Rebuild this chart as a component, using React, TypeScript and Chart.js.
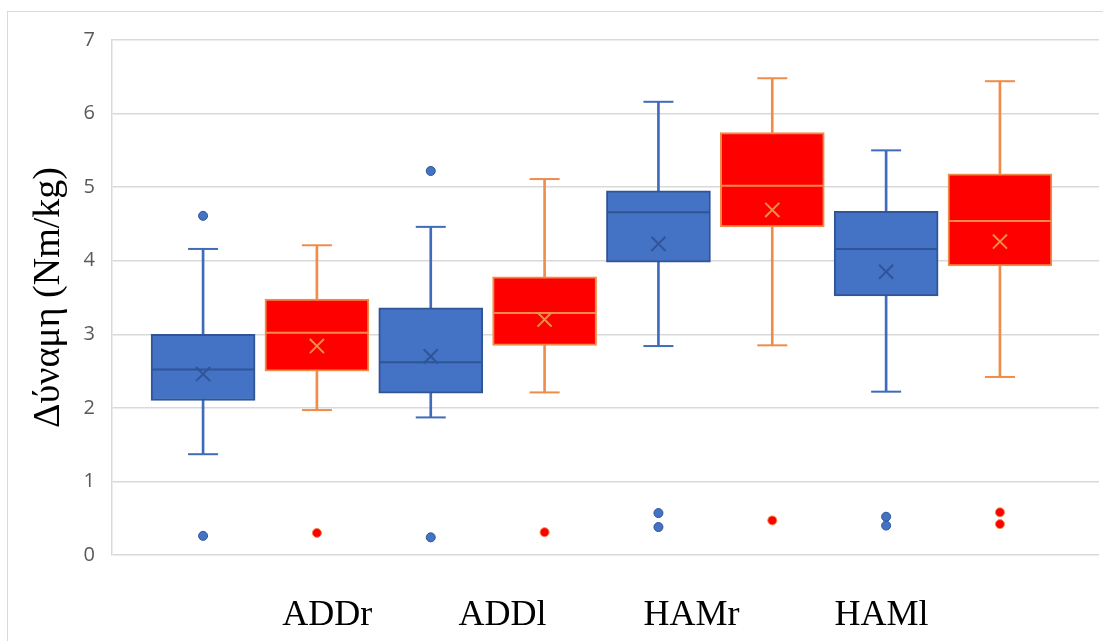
import React, { useEffect, useRef } from 'react';
import { Chart, registerables } from 'chart.js';

Chart.register(...registerables);

// ---- data ----
const categories = ['ADDr', 'ADDl', 'HAMr', 'HAMl'];
const labelPositions = [2.09, 3.63, 5.29, 6.96];
const bluePositions = [1, 3, 5, 7];
const redPositions = [2, 4, 6, 8];

const blueMin = [1.37, 1.87, 2.84, 2.22];
const blueQ1 = [2.10, 2.20, 3.98, 3.52];
const blueMedian = [2.52, 2.62, 4.66, 4.16];
const blueQ3 = [3.00, 3.36, 4.95, 4.67];
const blueMax = [4.16, 4.46, 6.16, 5.50];
const blueMean = [2.46, 2.70, 4.23, 3.85];
const blueOutliers = [[4.61, 0.26], [5.22, 0.24], [0.57, 0.38], [0.52, 0.40]];

const redMin = [1.97, 2.21, 2.85, 2.42];
const redQ1 = [2.50, 2.85, 4.46, 3.93];
const redMedian = [3.02, 3.29, 5.02, 4.54];
const redQ3 = [3.48, 3.78, 5.74, 5.18];
const redMax = [4.21, 5.11, 6.48, 6.44];
const redMean = [2.84, 3.20, 4.69, 4.26];
const redOutliers = [[0.30], [0.31], [0.47], [0.58, 0.42]];

const yTicks = [0, 1, 2, 3, 4, 5, 6, 7];

const BLUE = '#4472C4';
const BLUE_WHISKER = '#3F6BBA';
const BLUE_DARK = '#2F5597';
const RED = '#FF0000';
const ORANGE = '#F08C4A';

function boxSeries(xs: number[], mn: number[], q1: number[], med: number[], q3: number[], mx: number[], mean: number[], outl: number[][], fill: string, edge: string, whisker: string) {
  return [
    {
      type: 'bar',
      data: xs.map((x, i) => ({ x, y: [mn[i], mx[i]] })),
      backgroundColor: whisker,
      borderWidth: 0,
      barThickness: 2,
      grouped: false,
      order: 10,
    },
    {
      type: 'bar',
      data: xs.map((x, i) => ({ x, y: [q1[i], q3[i]] })),
      backgroundColor: fill,
      borderColor: edge,
      borderWidth: 2,
      borderSkipped: false,
      barThickness: 104,
      grouped: false,
      order: 8,
    },
    {
      type: 'scatter',
      data: xs.flatMap((x, i) => [{ x, y: mn[i] }, { x, y: mx[i] }]),
      pointStyle: 'line',
      pointRadius: 15,
      pointBorderWidth: 2,
      pointBorderColor: whisker,
      pointBackgroundColor: whisker,
      order: 6,
    },
    {
      type: 'scatter',
      data: xs.map((x, i) => ({ x, y: med[i] })),
      pointStyle: 'line',
      pointRadius: 51,
      pointBorderWidth: 2,
      pointBorderColor: edge,
      pointBackgroundColor: edge,
      order: 5,
    },
    {
      type: 'scatter',
      data: xs.map((x, i) => ({ x, y: mean[i] })),
      pointStyle: 'crossRot',
      pointRadius: 10,
      pointBorderWidth: 2,
      pointBorderColor: edge,
      pointBackgroundColor: edge,
      order: 4,
    },
    {
      type: 'scatter',
      data: xs.flatMap((x, i) => outl[i].map((v) => ({ x, y: v }))),
      pointStyle: 'circle',
      pointRadius: 4.5,
      pointBorderWidth: 1,
      pointBorderColor: edge,
      pointBackgroundColor: fill,
      order: 2,
    },
  ];
}

const frame = {
  id: 'frame',
  beforeDraw(chart: any) {
    const ctx = chart.ctx;
    ctx.save();
    ctx.fillStyle = '#ffffff';
    ctx.fillRect(0, 0, chart.width, chart.height);
    ctx.strokeStyle = '#d9d9d9';
    ctx.lineWidth = 1;
    ctx.strokeRect(7.5, 11.5, 1300, 1000);
    ctx.restore();
  },
};

export default function App() {
  const ref = useRef<HTMLCanvasElement>(null);
  useEffect(() => {
    if (!ref.current) return;
    const chart = new Chart(ref.current, {
      type: 'bar',
      data: {
        datasets: [
          ...boxSeries(bluePositions, blueMin, blueQ1, blueMedian, blueQ3, blueMax, blueMean, blueOutliers, BLUE, BLUE_DARK, BLUE_WHISKER),
          ...boxSeries(redPositions, redMin, redQ1, redMedian, redQ3, redMax, redMean, redOutliers, RED, ORANGE, ORANGE),
        ] as any,
      },
      options: {
        animation: false,
        responsive: true,
        maintainAspectRatio: false,
        layout: { autoPadding: false, padding: { left: 0, top: 40, right: 4, bottom: 0 } },
        plugins: { legend: { display: false }, tooltip: { enabled: false } },
        scales: {
          x: {
            type: 'linear',
            min: 0.2,
            max: 8.87,
            offset: false,
            grid: { display: false },
            border: { display: false },
            afterBuildTicks: (s: any) => {
              s.ticks = labelPositions.map((v) => ({ value: v }));
            },
            afterFit: (s: any) => {
              s.height = 86;
              s.paddingLeft = 0;
              s.paddingRight = 0;
            },
            ticks: {
              autoSkip: false,
              maxRotation: 0,
              padding: 31,
              color: '#000000',
              font: { family: 'Liberation Serif', size: 36 },
              callback: (_v: any, i: number) => categories[i],
            },
          },
          y: {
            type: 'linear',
            min: 0,
            max: 7,
            afterBuildTicks: (s: any) => {
              s.ticks = yTicks.map((v) => ({ value: v }));
            },
            afterFit: (s: any) => {
              s.width = 112;
              s.paddingTop = 0;
              s.paddingBottom = 0;
            },
            grid: { color: '#d9d9d9', lineWidth: 1.5, drawTicks: false },
            border: { display: true, color: '#d9d9d9', width: 1.5 },
            ticks: {
              padding: 17,
              color: '#595959',
              font: { family: 'Open Sans', size: 20 },
            },
            title: {
              display: true,
              text: 'Δύναμη (Nm/kg)',
              color: '#000000',
              font: { family: 'Liberation Serif', size: 38 },
              padding: { top: 26, bottom: 0 },
            },
          },
        },
      },
      plugins: [frame],
    } as any);
    return () => chart.destroy();
  }, []);
  return (
    <div style={{ position: 'absolute', left: 0, top: 0, width: 1103, height: 641 }}>
      <canvas ref={ref} />
    </div>
  );
}
